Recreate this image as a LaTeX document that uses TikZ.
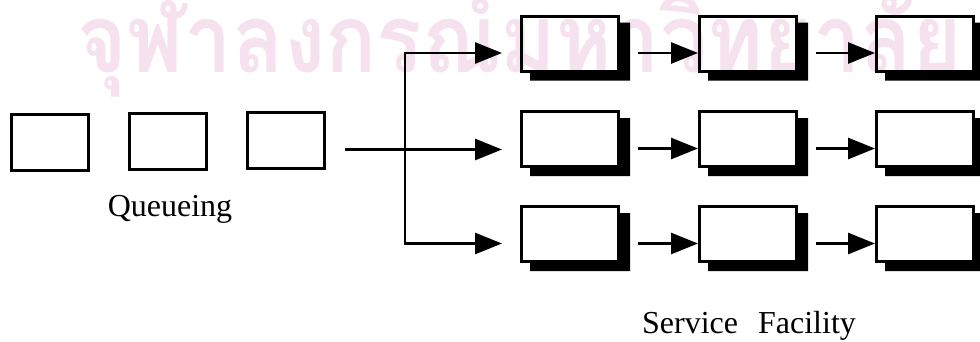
\documentclass[tikz,border=0pt]{standalone}
\usepackage{fontspec}
\setmainfont{Liberation Serif}
\newfontfamily\thaifont[Script=Thai]{Loma}
\usetikzlibrary{arrows.meta}
\definecolor{wmpink}{RGB}{246,226,238}

\begin{document}
\begin{tikzpicture}[x=1pt,y=-1pt,
  qbox/.style={draw, line width=3pt, minimum width=77pt, minimum height=56pt, inner sep=0pt},
  sbox/.style={draw, line width=3pt, minimum width=97pt, minimum height=55pt, inner sep=0pt},
  shade/.style={fill=black},
  flow/.style={line width=2.8pt, -{Triangle[length=27pt,width=21pt]}},
  lbl/.style={font=\fontsize{32}{36}\selectfont, inner sep=0pt}]
  \useasboundingbox (0,0) rectangle (980,341);

  % watermark across the top
  \node[anchor=base west, inner sep=0pt, text=wmpink] (wm) at (77,72)
    {\resizebox{885pt}{\height}{\thaifont\bfseries\fontsize{95}{100}\selectfont จุฬาลงกรณ์มหาวิทยาลัย}};

  % waiting line
  \node[qbox] (q1) at (50,142.5) {};
  \node[qbox] (q2) at (168,141.5) {};
  \node[qbox] (q3) at (286,140.5) {};
  \node[lbl, anchor=base] (ql) at (170,216) {Queueing};

  % service channels: three rows of three stages
  \foreach \r/\y in {1/43.5, 2/139, 3/234} {
    \foreach \c/\x in {1/570, 2/748, 3/925} {
      \node[sbox] (s\r\c) at (\x,\y) {};
      \fill[shade] ([yshift=-8pt]s\r\c.north east) -- ++(10,0)
        |- ([xshift=10pt,yshift=-8pt]s\r\c.south west)
        -- ([xshift=10pt]s\r\c.south west) -- (s\r\c.south east) -- cycle;
    }
  }
  \node[lbl, anchor=base] (sl) at (749,333) {Service\hspace{20pt}Facility};

  % split of the waiting line into the channels
  \coordinate (qout) at ([xshift=19pt,yshift=-9pt]q3.east);
  \coordinate (fork) at (405,149.5);
  \foreach \r in {1,2,3} {
    \coordinate (t\r) at ([xshift=-18pt,yshift=-9.5pt]s\r1.west);
  }
  \draw[flow] (qout) -- (qout -| t2);
  \draw[flow] (fork) |- (t1);
  \draw[flow] (fork) |- (t3);

  % stage to stage within each channel
  \foreach \r in {1,2,3} {
    \draw[flow] ([xshift=18pt,yshift=-9.5pt]s\r1.east) -- ([yshift=-9.5pt]s\r2.west);
    \draw[flow] ([xshift=18pt,yshift=-9.5pt]s\r2.east) -- ([yshift=-9.5pt]s\r3.west);
  }
\end{tikzpicture}
\end{document}
